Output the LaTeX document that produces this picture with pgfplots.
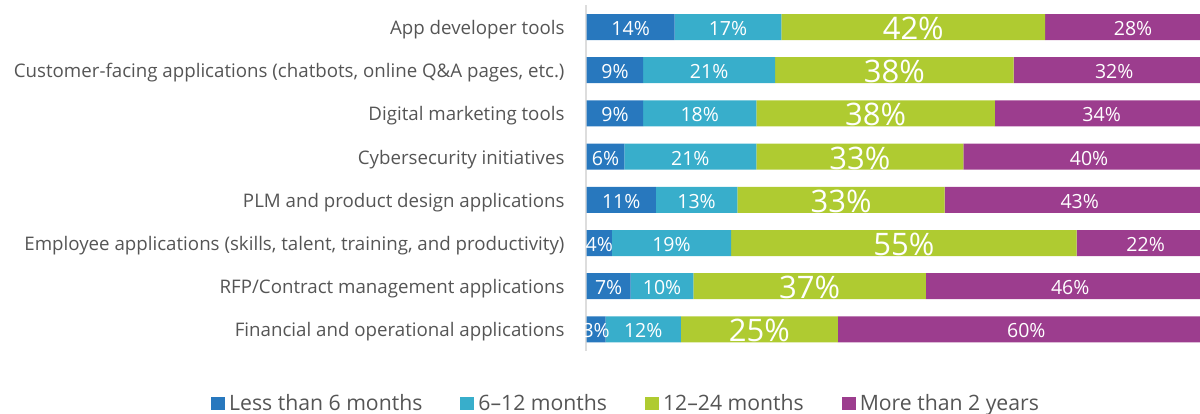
\documentclass[border=0pt]{standalone}
\usepackage{fontspec}
\setmainfont{Open Sans}
\usepackage{pgfplots}
\usepackage{pgfplotstable}
\pgfplotsset{compat=1.18}

\definecolor{c1}{HTML}{2878BE}
\definecolor{c2}{HTML}{38AECB}
\definecolor{c3}{HTML}{AFCB31}
\definecolor{c4}{HTML}{9C3D8E}
\definecolor{labelgray}{HTML}{555555}
\definecolor{axisgray}{HTML}{DDDDDD}

% share of respondents per time horizon, rows top to bottom
\pgfplotstableread{
y a  b  c  d
0 14 17 42 28
1 9  21 38 32
2 9  18 38 34
3 6  21 33 40
4 11 13 33 43
5 4  19 55 22
6 7  10 37 46
7 3  12 25 60
}\data

\pgfplotsset{
  frame/.style={
    at={(586.7pt,62pt)}, anchor=south west,
    width=613.3pt, height=345.6pt, scale only axis,
    xmin=0, xmax=97.66, ymin=-0.5, ymax=7.5, y dir=reverse,
  },
  lbl/.style={
    draw=none, mark=none,
    point meta=explicit,
    nodes near coords={\pgfmathprintnumber{\pgfplotspointmeta}\%},
    every node near coord/.append style={anchor=center, text=white,
      inner sep=0pt, font=#1, yshift=-1.5pt},
  },
}

\begin{document}
\begin{tikzpicture}
\useasboundingbox (0,0) rectangle (1200pt,413pt);
\begin{axis}[frame,
  xbar stacked, bar width=26pt,
  axis x line=none, axis y line*=left,
  y axis line style={draw=axisgray, line width=2pt, xshift=-1pt},
  ytick={0,...,7}, major tick length=0pt,
  yticklabels={App developer tools,
    {Customer-facing applications (chatbots, online Q\&A pages, etc.)},
    Digital marketing tools,
    Cybersecurity initiatives,
    PLM and product design applications,
    {Employee applications (skills, talent, training, and productivity)},
    RFP/Contract management applications,
    Financial and operational applications},
  yticklabel style={font=\fontsize{18.7}{22}\selectfont, text=labelgray,
    inner sep=0pt, anchor=base east, xshift=-22pt, yshift=-7.5pt},
  legend columns=4,
  legend style={at={(axis description cs:-0.6126,-0.1505)}, anchor=west,
    draw=none, fill=none, inner sep=0pt,
    font=\fontsize{21.2}{24}\selectfont, text=labelgray,
    nodes={inner sep=0pt, text height=15pt, text depth=0pt},
    /tikz/every odd column/.append style={column sep=4pt},
    /tikz/every even column/.append style={column sep=38pt}},
  legend cell align=left,
  legend image code/.code={\fill[#1] (0pt,-6.5pt) rectangle (14pt,6.5pt);},
]
\addplot[fill=c1, draw=none] table[x=a, y=y] {\data};
\addplot[fill=c2, draw=none] table[x=b, y=y] {\data};
\addplot[fill=c3, draw=none] table[x=c, y=y] {\data};
\addplot[fill=c4, draw=none] table[x=d, y=y] {\data};
\legend{Less than 6 months, 6--12 months, 12--24 months, More than 2 years}
\end{axis}
\begin{axis}[frame, hide axis, /pgf/number format/assume math mode=true]
\addplot[lbl=\fontsize{19.5}{20}\selectfont] table[x expr={\thisrow{a}/2}, y=y, meta=a] {\data};
\addplot[lbl=\fontsize{19.5}{20}\selectfont] table[x expr={\thisrow{a}+\thisrow{b}/2}, y=y, meta=b] {\data};
\addplot[lbl=\fontsize{31}{32}\selectfont] table[x expr={\thisrow{a}+\thisrow{b}+\thisrow{c}/2}, y=y, meta=c] {\data};
\addplot[lbl=\fontsize{19.5}{20}\selectfont] table[x expr={\thisrow{a}+\thisrow{b}+\thisrow{c}+\thisrow{d}/2}, y=y, meta=d] {\data};
\end{axis}
\end{tikzpicture}
\end{document}
